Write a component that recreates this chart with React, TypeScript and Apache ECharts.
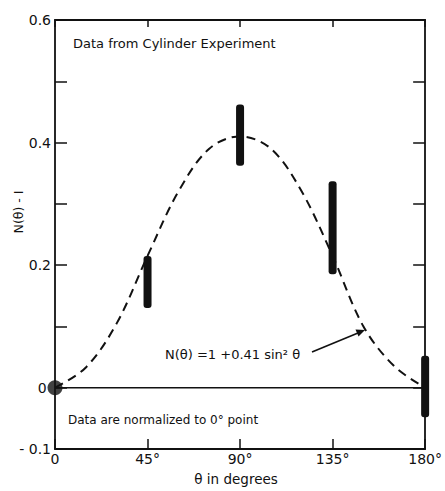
import React, { useEffect, useRef } from "react";
import * as echarts from "echarts";

const curveAngles = [0, 15, 30, 45, 60, 75, 90, 105, 120, 135, 150, 165, 180];
const curveValues = [0, 0.033, 0.105, 0.215, 0.32, 0.39, 0.41, 0.39, 0.32, 0.215, 0.1, 0.035, 0];

const barAngles = [45, 90, 135, 180];
const barLow = [0.13, 0.362, 0.185, -0.048];
const barHigh = [0.215, 0.462, 0.337, 0.052];

const refAngle = [0];
const refValue = [0];

const xTickLabels: Record<number, string> = { 0: "0", 45: "45°", 90: "90°", 135: "135°", 180: "180°" };
const yTickLabels: Record<number, string> = { [-1]: "- 0.1", 0: "0 ", 2: "0.2", 4: "0.4", 6: "0.6" };

const FONT = "DejaVu Sans";
const INK = "#111";

export default function App() {
  const ref = useRef<HTMLDivElement>(null);
  useEffect(() => {
    if (!ref.current) return;
    const chart = echarts.init(ref.current, undefined, { renderer: "svg" });
    const axisLine = { show: true, onZero: false, lineStyle: { color: INK, width: 1.8 } };
    const option: any = {
      animation: false,
      backgroundColor: "#fff",
      grid: { left: 55, right: 12.5, top: 20, bottom: 35 },
      xAxis: [
        {
          type: "value",
          min: 0,
          max: 180,
          interval: 45,
          position: "bottom",
          axisLine,
          axisTick: { show: true, inside: true, length: 10, lineStyle: { color: INK, width: 1.5 } },
          splitLine: { show: false },
          axisLabel: {
            color: INK,
            fontFamily: FONT,
            fontSize: 14,
            margin: 3,
            formatter: (v: number) => xTickLabels[Math.round(v)] ?? "",
          },
          name: "θ in degrees",
          nameLocation: "middle",
          nameGap: 23,
          nameTextStyle: { color: INK, fontFamily: FONT, fontSize: 13.5, padding: [0, 8, 0, 0] },
        },
        {
          type: "value",
          min: 0,
          max: 180,
          interval: 45,
          position: "top",
          axisLine,
          axisTick: { show: true, inside: true, length: 7, lineStyle: { color: INK, width: 1.5 } },
          splitLine: { show: false },
          axisLabel: { show: false },
        },
      ],
      yAxis: [
        {
          type: "value",
          min: -0.1,
          max: 0.6,
          interval: 0.1,
          position: "left",
          axisLine,
          axisTick: { show: true, inside: true, length: 12, lineStyle: { color: INK, width: 1.5 } },
          splitLine: { show: false },
          axisLabel: {
            color: INK,
            fontFamily: FONT,
            fontSize: 14,
            margin: 4,
            formatter: (v: number) => yTickLabels[Math.round(v * 10)] ?? "",
          },
        },
        {
          type: "value",
          min: -0.1,
          max: 0.6,
          interval: 0.1,
          position: "right",
          axisLine,
          axisTick: { show: true, inside: true, length: 12, lineStyle: { color: INK, width: 1.5 } },
          splitLine: { show: false },
          axisLabel: { show: false },
        },
      ],
      series: [
        {
          type: "line",
          xAxisIndex: 0,
          yAxisIndex: 0,
          data: [
            [0, 0],
            [180, 0],
          ],
          symbol: "none",
          lineStyle: { color: INK, width: 1.5 },
          z: 2,
        },
        {
          type: "line",
          xAxisIndex: 0,
          yAxisIndex: 0,
          data: curveAngles.map((a, i) => [a, curveValues[i]]),
          smooth: 0.35,
          symbol: "none",
          lineStyle: { color: INK, width: 2, type: [9, 6] },
          z: 3,
        },
        {
          type: "custom",
          xAxisIndex: 0,
          yAxisIndex: 0,
          clip: false,
          data: barAngles.map((a, i) => [a, barLow[i], barHigh[i]]),
          encode: { x: 0, y: [1, 2] },
          renderItem: (_params: any, api: any) => {
            const top = api.coord([api.value(0), api.value(2)]);
            const bot = api.coord([api.value(0), api.value(1)]);
            return {
              type: "rect",
              shape: { x: top[0] - 4, y: top[1], width: 8, height: bot[1] - top[1], r: 3 },
              style: { fill: INK },
            };
          },
          z: 5,
        },
        {
          type: "scatter",
          xAxisIndex: 0,
          yAxisIndex: 0,
          data: refAngle.map((a, i) => [a, refValue[i]]),
          symbol: "circle",
          symbolSize: 15,
          itemStyle: { color: INK },
          clip: false,
          z: 6,
        },
      ],
      graphic: [
        {
          type: "text",
          left: 73,
          top: 37,
          style: { text: "Data from Cylinder Experiment", fill: INK, fontFamily: FONT, fontSize: 13 },
        },
        {
          type: "text",
          left: 68,
          top: 414,
          style: { text: "Data are normalized to 0° point", fill: INK, fontFamily: FONT, fontSize: 12 },
        },
        {
          type: "text",
          left: 165,
          top: 348,
          style: { text: "N(θ) =1 +0.41 sin² θ", fill: INK, fontFamily: FONT, fontSize: 13 },
        },
        {
          type: "line",
          shape: { x1: 312, y1: 352, x2: 358, y2: 333 },
          style: { stroke: INK, lineWidth: 1.6 },
        },
        {
          type: "polygon",
          shape: {
            points: [
              [365, 330],
              [355.5, 329.5],
              [358.5, 336.5],
            ],
          },
          style: { fill: INK },
        },
        {
          type: "text",
          x: 18,
          y: 212,
          rotation: Math.PI / 2,
          style: {
            text: "N(θ) - I",
            fill: INK,
            fontFamily: FONT,
            fontSize: 12.5,
            align: "center",
            verticalAlign: "middle",
          },
        },
      ],
    };
    chart.setOption(option);
    return () => chart.dispose();
  }, []);
  return (
    <div
      ref={ref}
      style={{ position: "fixed", left: 0, top: 0, width: 445, height: 491, background: "#fff" }}
    />
  );
}
